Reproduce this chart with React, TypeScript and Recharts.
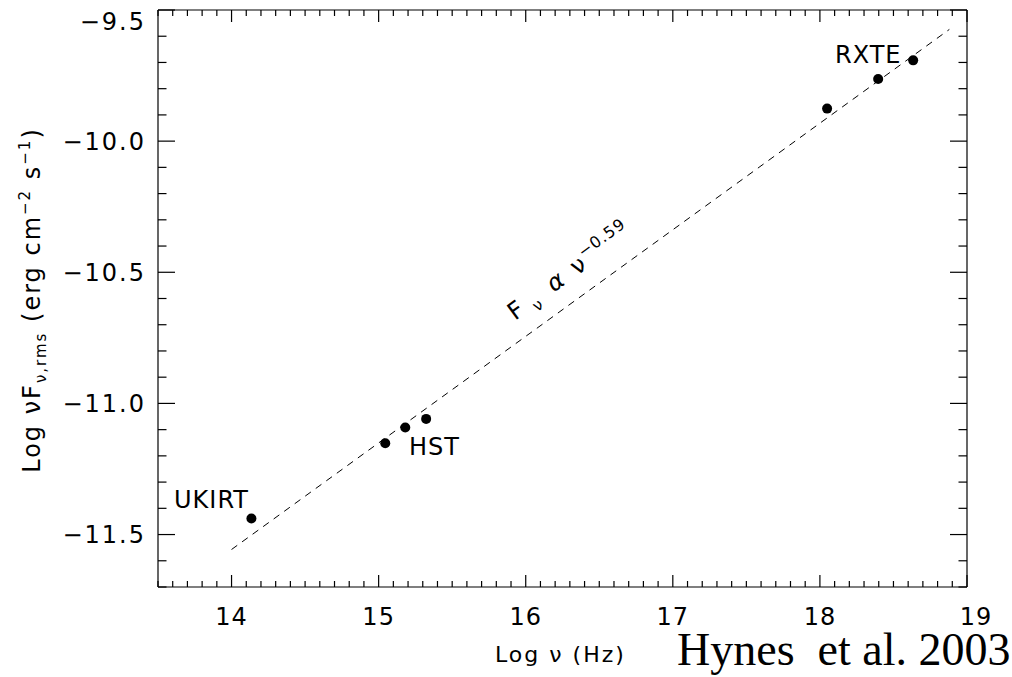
import React from 'react';
import { ComposedChart, XAxis, YAxis, Scatter, Line } from 'recharts';

// Observed points (Log nu, Log nuF_nu,rms)
const pointX = [14.135, 15.045, 15.181, 15.323, 18.049, 18.396, 18.634];
const pointY = [-11.439, -11.152, -11.092, -11.059, -9.876, -9.763, -9.692];
// Dashed power-law fit endpoints
const fitX = [14.0, 18.88];
const fitY = [-11.557, -9.574];

const xDomain: [number, number] = [13.5, 19];
const yDomain: [number, number] = [-11.7, -9.5];
const xMajorTicks = [14, 15, 16, 17, 18, 19];
const yMajorTicks = [-11.5, -11.0, -10.5, -10.0, -9.5];
const xMinorTicks = Array.from({ length: 56 }, (_, i) => Math.round((13.5 + i * 0.1) * 10) / 10);
const yMinorTicks = Array.from({ length: 23 }, (_, i) => Math.round((-11.7 + i * 0.1) * 10) / 10);

const pointData = pointX.map((x, i) => ({ x, y: pointY[i] }));
const fitData = fitX.map((x, i) => ({ x, y: fitY[i] }));

const W = 1012;
const H = 677;
const FONT = '"DejaVu Sans", sans-serif';
const INK = '#000';
const SW = 1.2;

const isXMajor = (v: number) => xMajorTicks.some((t) => Math.abs(t - v) < 1e-6);
const isYMajor = (v: number) => yMajorTicks.some((t) => Math.abs(t - v) < 1e-6);
const fmtY = (v: number) => (v < 0 ? '\u2212' : '') + Math.abs(v).toFixed(1);

const BottomTick = (props: any) => {
  const { x, y, payload } = props;
  const v = payload.value;
  const major = isXMajor(v);
  return (
    <g>
      <line x1={x} x2={x} y1={y} y2={y - (major ? 12 : 6)} stroke={INK} strokeWidth={SW} />
      {major && (
        <text x={x + (v === 19 ? 9 : 0)} y={y + 38} textAnchor="middle" fontFamily={FONT} fontSize={24} letterSpacing={1} fill={INK}>
          {String(v)}
        </text>
      )}
    </g>
  );
};

const TopTick = (props: any) => {
  const { x, y, payload } = props;
  const major = isXMajor(payload.value);
  return <line x1={x} x2={x} y1={y} y2={y + (major ? 12 : 6)} stroke={INK} strokeWidth={SW} />;
};

const LeftTick = (props: any) => {
  const { x, y, payload } = props;
  const v = payload.value;
  const major = isYMajor(v);
  const isTop = Math.abs(v - yDomain[1]) < 1e-6;
  return (
    <g>
      <line x1={x} x2={x + (major ? 17 : 8.5)} y1={y} y2={y} stroke={INK} strokeWidth={SW} />
      {major && (
        <text x={x - 12} y={y + (isTop ? 19.5 : 8.5)} textAnchor="end" fontFamily={FONT} fontSize={24} letterSpacing={2} fill={INK}>
          {fmtY(v)}
        </text>
      )}
    </g>
  );
};

const RightTick = (props: any) => {
  const { x, y, payload } = props;
  const major = isYMajor(payload.value);
  return <line x1={x} x2={x - (major ? 17 : 8.5)} y1={y} y2={y} stroke={INK} strokeWidth={SW} />;
};

const Dot = (props: any) => <circle cx={props.cx} cy={props.cy} r={5} fill={INK} />;

const axisLine = { stroke: INK, strokeWidth: SW };

export default function App() {
  return (
    <div style={{ position: 'absolute', left: 0, top: 0, width: W, height: H, background: '#fff' }}>
      <ComposedChart width={W} height={H} margin={{ top: 9, right: 44, bottom: 89, left: 157 }}>
        <XAxis
          xAxisId={0}
          dataKey="x"
          type="number"
          orientation="bottom"
          domain={xDomain}
          allowDataOverflow
          ticks={xMinorTicks}
          interval={0}
          height={1}
          tickSize={0}
          tickMargin={0}
          tickLine={false}
          axisLine={axisLine}
          tick={BottomTick}
        />
        <XAxis
          xAxisId="top"
          dataKey="x"
          type="number"
          orientation="top"
          domain={xDomain}
          allowDataOverflow
          ticks={xMinorTicks}
          interval={0}
          height={1}
          tickSize={0}
          tickMargin={0}
          tickLine={false}
          axisLine={axisLine}
          tick={TopTick}
        />
        <YAxis
          yAxisId={0}
          dataKey="y"
          type="number"
          orientation="left"
          domain={yDomain}
          allowDataOverflow
          ticks={yMinorTicks}
          interval={0}
          width={1}
          tickSize={0}
          tickMargin={0}
          tickLine={false}
          axisLine={axisLine}
          tick={LeftTick}
        />
        <YAxis
          yAxisId="right"
          dataKey="y"
          type="number"
          orientation="right"
          domain={yDomain}
          allowDataOverflow
          ticks={yMinorTicks}
          interval={0}
          width={1}
          tickSize={0}
          tickMargin={0}
          tickLine={false}
          axisLine={axisLine}
          tick={RightTick}
        />
        <Line
          data={fitData}
          dataKey="y"
          xAxisId={0}
          yAxisId={0}
          type="linear"
          stroke={INK}
          strokeWidth={1}
          strokeDasharray="7 6"
          dot={false}
          activeDot={false}
          isAnimationActive={false}
        />
        <Scatter data={pointData} dataKey="y" xAxisId={0} yAxisId={0} shape={Dot} isAnimationActive={false} />
      </ComposedChart>
      <svg width={W} height={H} style={{ position: 'absolute', left: 0, top: 0, pointerEvents: 'none' }}>
        <g fontFamily={FONT} fill={INK}>
          <text x={174} y={508} fontSize={24} letterSpacing={1}>UKIRT</text>
          <text x={409} y={455} fontSize={24} letterSpacing={1}>HST</text>
          <text x={835} y={63} fontSize={24} letterSpacing={1}>RXTE</text>
          <text transform="translate(515,321) rotate(-36)" fontSize={24}>
            <tspan x={0} y={0}>F</tspan>
            <tspan x={23} y={6} fontSize={16}>{'\u03BD'}</tspan>
            <tspan x={48} y={0} fontStyle="italic">{'\u03B1'}</tspan>
            <tspan x={77} y={0}>{'\u03BD'}</tspan>
            <tspan x={92} y={-11} fontSize={16} letterSpacing={1}>{'\u22120.59'}</tspan>
          </text>
          <text transform="translate(40,300) rotate(-90)" textAnchor="middle" fontSize={24} letterSpacing={2}>
            <tspan>{'Log \u03BDF'}</tspan>
            <tspan fontSize={15} dy={6}>{'\u03BD,rms'}</tspan>
            <tspan dy={-6}>{' (erg cm'}</tspan>
            <tspan fontSize={15} dy={-10}>{'\u22122'}</tspan>
            <tspan dy={10}>{' s'}</tspan>
            <tspan fontSize={15} dy={-10}>{'\u22121'}</tspan>
            <tspan dy={10}>{')'}</tspan>
          </text>
          <text x={495} y={662} fontSize={22} letterSpacing={2}>{'Log \u03BD (Hz)'}</text>
        </g>
        <text x={677} y={665} fontFamily='"Liberation Serif", "Times New Roman", serif' fontSize={46} fill={INK} style={{ whiteSpace: 'pre' }}>
          {'Hynes  et al. 2003'}
        </text>
      </svg>
    </div>
  );
}
